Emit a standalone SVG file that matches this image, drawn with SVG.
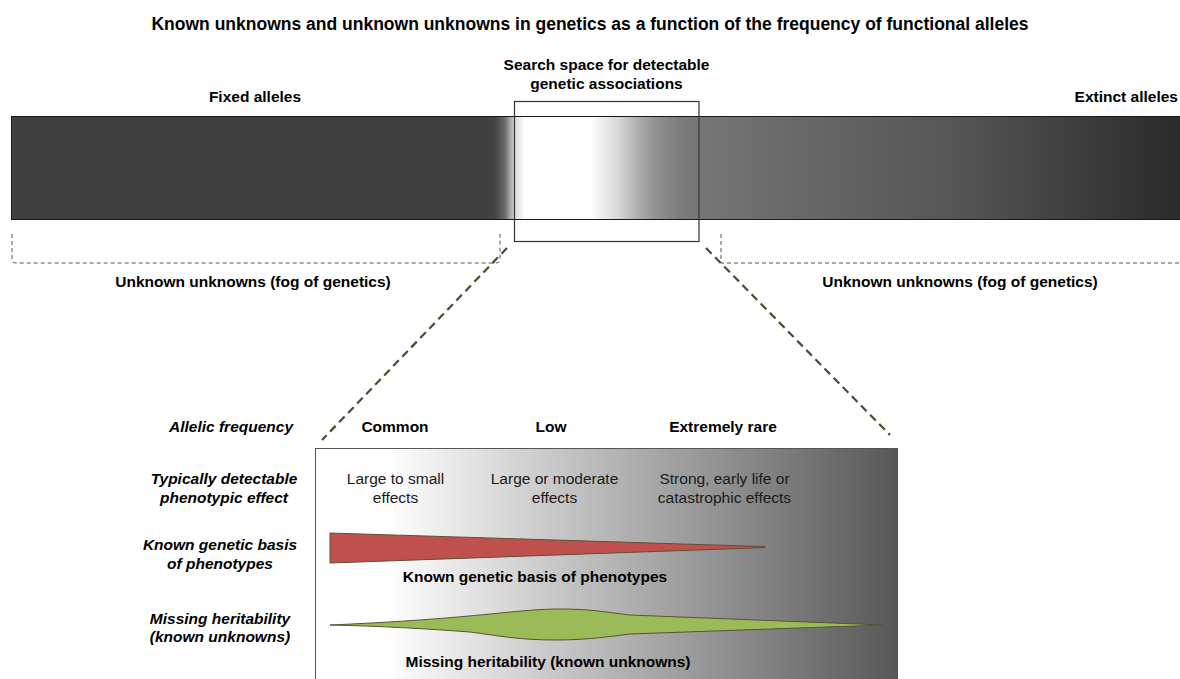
<svg xmlns="http://www.w3.org/2000/svg" width="1180" height="679" viewBox="0 0 1180 679">
<defs>
<linearGradient id="barGrad" gradientUnits="userSpaceOnUse" x1="12" y1="0" x2="1180" y2="0">
<stop offset="0" stop-color="#414141"/>
<stop offset="0.4127" stop-color="#414141"/>
<stop offset="0.422" stop-color="#6a6a6a"/>
<stop offset="0.4307" stop-color="#dcdcdc"/>
<stop offset="0.4392" stop-color="#ffffff"/>
<stop offset="0.4949" stop-color="#ffffff"/>
<stop offset="0.5188" stop-color="#d8d8d8"/>
<stop offset="0.5351" stop-color="#b0b0b0"/>
<stop offset="0.5514" stop-color="#909090"/>
<stop offset="0.5719" stop-color="#7c7c7c"/>
<stop offset="0.5873" stop-color="#767676"/>
<stop offset="0.6747" stop-color="#686868"/>
<stop offset="0.8142" stop-color="#545454"/>
<stop offset="1" stop-color="#2a2a2a"/>
</linearGradient>
<linearGradient id="panelGrad" gradientUnits="userSpaceOnUse" x1="316" y1="0" x2="898" y2="0">
<stop offset="0" stop-color="#ffffff"/>
<stop offset="0.12" stop-color="#ffffff"/>
<stop offset="1" stop-color="#575757"/>
</linearGradient>
</defs>
<style>
text{font-family:"Liberation Sans",Arial,sans-serif;fill:#000}
.t{font-weight:bold;font-size:17.5px}
.b{font-weight:bold;font-size:15.5px}
.bi{font-weight:bold;font-style:italic;font-size:15.5px}
.n{font-size:15.5px;fill:#1a1a1a}
.m{text-anchor:middle}
.fog{fill:none;stroke:#555;stroke-width:1;stroke-dasharray:4 3}
.zoom{fill:none;stroke:#4f4a2e;stroke-width:2.2;stroke-dasharray:8 5}
.shape{stroke:#5b5233;stroke-width:1;stroke-linejoin:round}
</style>

<g id="title">
<text class="t m" x="590" y="30">Known unknowns and unknown unknowns in genetics as a function of the frequency of functional alleles</text>
</g>

<g id="frequency-bar">
<rect x="11.5" y="116.5" width="1170" height="103" fill="url(#barGrad)" stroke="#1a1a1a" stroke-width="1"/>
<text class="b m" x="255" y="102">Fixed alleles</text>
<text class="b" x="1178" y="102" text-anchor="end">Extinct alleles</text>
</g>

<g id="search-space">
<rect x="514.5" y="101.5" width="184.5" height="140" fill="none" stroke="#333" stroke-width="1.2"/>
<text class="b m" x="606.5" y="70">Search space for detectable</text>
<text class="b m" x="606.5" y="89">genetic associations</text>
</g>

<g id="fog-left">
<path class="fog" d="M12,234 V259 Q12,263 16,263 H496 Q500,263 500,259 V234"/>
<text class="b m" x="253" y="287">Unknown unknowns (fog of genetics)</text>
</g>

<g id="fog-right">
<path class="fog" d="M721,234 V263 H1180"/>
<text class="b m" x="960" y="287">Unknown unknowns (fog of genetics)</text>
</g>

<g id="connectors">
<line class="zoom" x1="507" y1="248" x2="322" y2="440"/>
<line class="zoom" x1="706" y1="248" x2="890" y2="435"/>
</g>

<g id="row-labels">
<text class="bi m" x="231" y="431.5">Allelic frequency</text>
<text class="bi m" x="224" y="483.5">Typically detectable</text>
<text class="bi m" x="224" y="502.5">phenotypic effect</text>
<text class="bi m" x="220" y="549.5">Known genetic basis</text>
<text class="bi m" x="220" y="568.5">of phenotypes</text>
<text class="bi m" x="220" y="623.5">Missing heritability</text>
<text class="bi m" x="220" y="642">(known unknowns)</text>
</g>

<g id="column-headers">
<text class="b m" x="395" y="431.5">Common</text>
<text class="b m" x="551" y="431.5">Low</text>
<text class="b m" x="723" y="431.5">Extremely rare</text>
</g>

<g id="detail-panel">
<rect x="315.5" y="448.5" width="582" height="240" fill="url(#panelGrad)" stroke="#555" stroke-width="1"/>
<text class="n m" x="395.5" y="483.5">Large to small</text>
<text class="n m" x="395.5" y="502.5">effects</text>
<text class="n m" x="554.5" y="483.5">Large or moderate</text>
<text class="n m" x="554.5" y="502.5">effects</text>
<text class="n m" x="724.5" y="483.5">Strong, early life or</text>
<text class="n m" x="724.5" y="502.5">catastrophic effects</text>
</g>

<g id="known-basis">
<path class="shape" fill="#C0504D" d="M330,533 L765,546.6 L765,547.6 L330,563 Z"/>
<text class="b m" x="535" y="582">Known genetic basis of phenotypes</text>
</g>

<g id="missing-heritability">
<path class="shape" fill="#9BBB59" d="M330,625 C400,622 450,618 490,614 C520,611 540,609 560,609 C590,609 605,612 630,615 L883,625 L630,634 C600,638 580,640 555,640 C520,640 500,636 470,632 C430,629 380,626 330,625 Z"/>
<text class="b m" x="548" y="667">Missing heritability (known unknowns)</text>
</g>
</svg>
